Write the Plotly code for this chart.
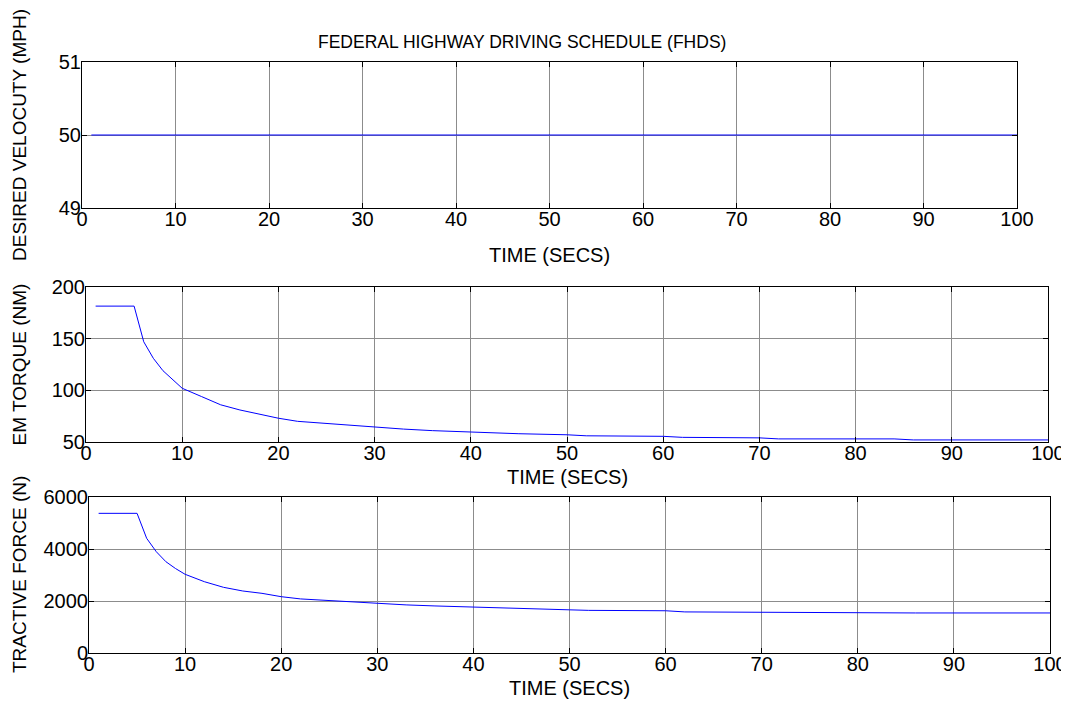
import plotly.graph_objects as go

# page body has an 8px margin; the figure is sized so it ends at the window edge
OFF = 8
W, H = 1069 - OFF, 702 - OFF

# ---- data ----
vel_time = [1, 100]
velocity = [50, 50]

time = [1, 5, 6, 7, 8, 9, 10, 12, 14, 16, 18, 20, 22, 25, 28, 30, 33, 36, 40, 45,
        50, 52, 60, 62, 70, 72, 84, 86, 100]
torque = [181.5, 181.5, 147, 131, 119, 110, 102, 94, 86, 81, 77, 73, 70, 68, 65.5, 64,
          62.5, 61, 59.5, 58, 57, 56, 55.5, 54.5, 54, 53, 53, 52, 52]
force = [5372, 5372, 4410, 3896, 3512, 3250, 3027, 2743, 2526, 2385, 2295, 2166, 2080,
         2010, 1940, 1905, 1850, 1810, 1760, 1710, 1660, 1640, 1625, 1580, 1570, 1545,
         1545, 1540, 1540]

x_ticks = [0, 10, 20, 30, 40, 50, 60, 70, 80, 90, 100]
vel_ticks = [49, 50, 51]
torque_ticks = [50, 100, 150, 200]
force_ticks = [0, 2000, 4000, 6000]

title_text = "FEDERAL HIGHWAY DRIVING SCHEDULE (FHDS)"
x_title = "TIME (SECS)"
y_titles = ["DESIRED VELOCUTY (MPH)", "EM TORQUE (NM)", "TRACTIVE FORCE (N)"]

# ---- layout helpers (window pixel -> paper) ----
def px(x):
    return (x - OFF) / W

def py(y):
    return 1 - (y - OFF) / H

FONT = "Arial, Liberation Sans, Helvetica, sans-serif"
FS = 20
LINE = "rgb(0,0,255)"
GRID = "rgb(140,140,140)"

boxes = [  # left, right, top, bottom in window pixels
    (82, 1017, 62, 208),
    (86, 1048, 287, 442),
    (89, 1050, 497, 653),
]
xtitle_y = [255, 477, 688]
yranges = [[49, 51], [50, 200], [0, 6000]]
yticks = [vel_ticks, torque_ticks, force_ticks]

fig = go.Figure()
fig.add_trace(go.Scatter(x=vel_time, y=velocity, mode="lines",
                         line=dict(color=LINE, width=1), xaxis="x", yaxis="y"))
fig.add_trace(go.Scatter(x=time, y=torque, mode="lines",
                         line=dict(color=LINE, width=1), xaxis="x2", yaxis="y2"))
fig.add_trace(go.Scatter(x=time, y=force, mode="lines",
                         line=dict(color=LINE, width=1), xaxis="x3", yaxis="y3"))

layout = dict(
    width=W, height=H, showlegend=False,
    margin=dict(l=0, r=0, t=0, b=0, autoexpand=False),
    paper_bgcolor="white", plot_bgcolor="white",
    font=dict(family=FONT, size=FS, color="black"),
)
annotations = []
for i, (l, r, t, b) in enumerate(boxes):
    sx = "" if i == 0 else str(i + 1)
    common = dict(
        ticks="inside", ticklen=5, tickcolor="black",
        showline=True, linecolor="black", linewidth=1, mirror="ticks",
        showgrid=True, gridcolor=GRID, gridwidth=1,
        zeroline=False, tickfont=dict(size=FS), fixedrange=True,
        automargin=False,
    )
    layout["xaxis" + sx] = dict(
        domain=[px(l), px(r)], range=[0, 100], anchor="y" + sx,
        tickvals=x_ticks, ticklabelstandoff=-7, **common,
    )
    layout["yaxis" + sx] = dict(
        domain=[py(b), py(t)], range=yranges[i], anchor="x" + sx,
        tickvals=yticks[i], ticklabelstandoff=-4, **common,
    )
    annotations.append(dict(
        text=x_title, xref="paper", yref="paper",
        x=px((l + r) / 2), y=py(xtitle_y[i]), xanchor="center", yanchor="middle",
        showarrow=False, font=dict(size=FS),
    ))
    annotations.append(dict(
        text=y_titles[i], xref="paper", yref="paper", textangle=-90,
        x=px(19), y=py((t + b) / 2), xanchor="center", yanchor="middle",
        showarrow=False, font=dict(size=19),
    ))
annotations.append(dict(
    text=title_text, xref="paper", yref="paper",
    x=px(522), y=py(42), xanchor="center", yanchor="middle",
    showarrow=False, font=dict(size=17.5),
))
layout["annotations"] = annotations
fig.update_layout(**layout)
fig.write_html("out.html")
